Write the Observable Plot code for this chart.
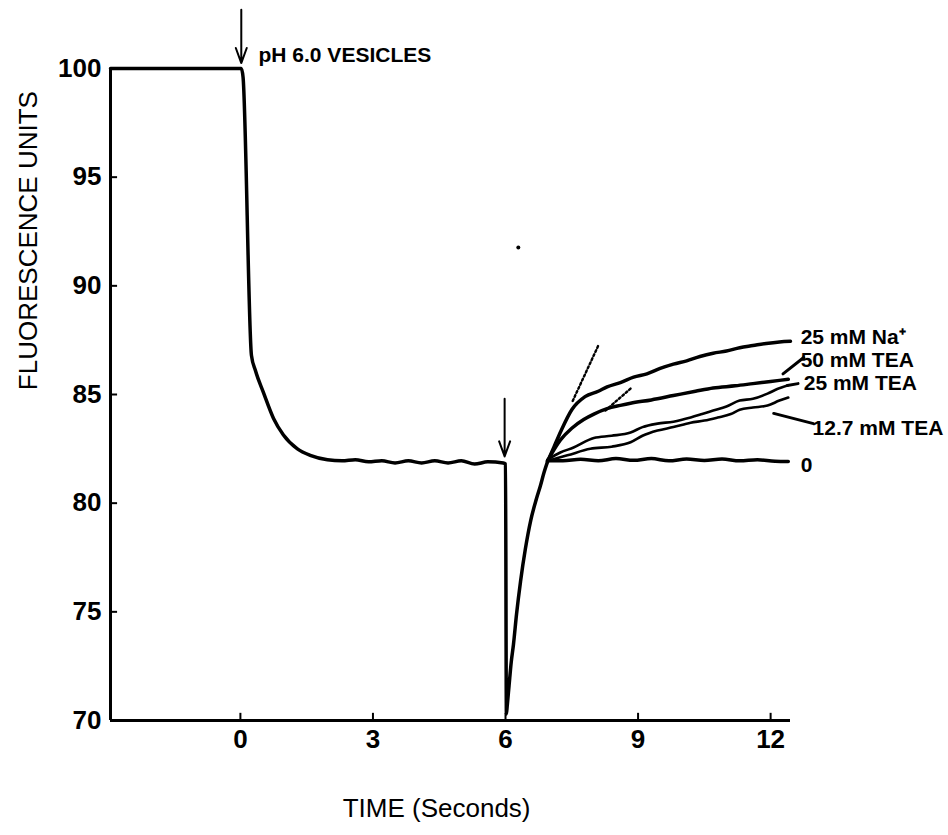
<!DOCTYPE html>
<html>
<head>
<meta charset="utf-8">
<script src="https://cdn.jsdelivr.net/npm/d3@7"></script>
<script src="https://cdn.jsdelivr.net/npm/@observablehq/plot@0.6"></script>
<style>
  html, body { margin: 0; padding: 0; background: #fff; }
  #chart { width: 948px; height: 835px; }
</style>
</head>
<body>
<div id="chart"></div>
<script>
// ---- data (time in seconds, fluorescence units) ----
const mainT = [-2.94, 0.02, 0.06, 0.25, 0.34, 0.52, 0.75, 0.97, 1.29, 1.58, 1.97, 2.3, 2.6, 2.9, 3.2, 3.5, 3.8, 4.1, 4.4, 4.7, 5.0, 5.3, 5.6, 5.95, 6.0, 6.02, 6.04, 6.08, 6.13, 6.18, 6.25, 6.34, 6.45, 6.57, 6.7, 6.79, 6.87, 6.95];
const mainV = [100, 100, 99.6, 86.8, 86.1, 85.1, 83.9, 83.15, 82.5, 82.2, 82.0, 81.95, 82.0, 81.9, 81.95, 81.85, 81.95, 81.85, 81.95, 81.85, 81.95, 81.8, 81.9, 81.85, 81.8, 70.3, 70.7, 71.6, 72.7, 73.5, 74.9, 76.4, 77.9, 79.2, 80.2, 80.8, 81.4, 81.9];

const naT = [6.95, 7.1, 7.25, 7.5, 7.8, 8.1, 8.3, 8.6, 8.9, 9.2, 9.5, 9.8, 10.1, 10.4, 10.7, 11.0, 11.3, 11.6, 11.9, 12.2, 12.45];
const naV = [81.9, 82.6, 83.3, 84.3, 84.9, 85.15, 85.35, 85.55, 85.8, 85.95, 86.2, 86.4, 86.55, 86.75, 86.9, 87.0, 87.15, 87.25, 87.35, 87.42, 87.45];

const tea50T = [6.95, 7.24, 7.5, 7.77, 8.0, 8.3, 8.6, 8.83, 9.3, 9.8, 10.3, 10.7, 11.2, 11.6, 12.0, 12.4];
const tea50V = [81.95, 82.9, 83.45, 83.85, 84.1, 84.35, 84.5, 84.6, 84.75, 84.95, 85.15, 85.3, 85.4, 85.5, 85.6, 85.7];

const tea25T = [6.95, 7.24, 7.54, 8.0, 8.4, 8.83, 9.1, 9.44, 9.8, 10.19, 10.45, 10.7, 11.0, 11.3, 11.6, 11.93, 12.15, 12.38];
const tea25V = [82.0, 82.33, 82.56, 83.0, 83.1, 83.25, 83.5, 83.66, 83.75, 83.94, 84.1, 84.26, 84.45, 84.72, 84.8, 85.04, 85.25, 85.41];

const tea12T = [6.95, 7.4, 7.92, 8.4, 8.83, 9.1, 9.44, 9.8, 10.19, 10.5, 10.8, 11.1, 11.3, 11.6, 11.93, 12.2, 12.4];
const tea12V = [81.95, 82.2, 82.5, 82.6, 82.8, 83.1, 83.34, 83.5, 83.7, 83.8, 83.94, 84.1, 84.3, 84.4, 84.49, 84.72, 84.86];

const zeroT = [6.95, 7.3, 7.7, 8.1, 8.5, 8.9, 9.3, 9.7, 10.1, 10.5, 10.9, 11.3, 11.7, 12.1, 12.4];
const zeroV = [81.95, 81.95, 82.02, 81.95, 82.05, 81.97, 82.05, 81.95, 82.03, 81.96, 82.03, 81.95, 82.0, 81.93, 81.92];

// dotted initial-rate tangents
const tangentNaT = [7.52, 8.1];
const tangentNaV = [84.7, 87.25];
const tangentTeaT = [8.26, 8.83];
const tangentTeaV = [84.26, 85.27];

// axis ticks
const xTicks = [0, 3, 6, 9, 12];
const yTicks = [70, 75, 80, 85, 90, 95, 100];
const xDomain = [-2.94, 12.45];
const yDomain = [70, 100];

// annotations (data units)
const seriesLabels = ["25 mM Na\u207A", "50 mM TEA", "25 mM TEA", "12.7 mM TEA", "0"];
const labelT = [12.68, 12.68, 12.75, 12.95, 12.68];
const labelV = [87.62, 86.56, 85.5, 83.43, 81.73];
const eventArrows = [
  {x1: 0.02, y1: 102.7, x2: 0.02, y2: 100.25},
  {x1: 5.98, y1: 84.8, x2: 5.98, y2: 82.15}
];
const labelArrows = [
  {x1: 12.75, y1: 86.7, x2: 12.28, y2: 85.95, bend: 20},
  {x1: 12.38, y1: 85.41, x2: 12.62, y2: 85.5, bend: 0},
  {x1: 12.97, y1: 83.66, x2: 12.07, y2: 84.13, bend: 0}
];
const specks = [{t: 6.29, v: 91.76}];

// ---- build tables ----
const toRows = (name, T, V) => T.map((t, i) => ({series: name, t, v: V[i]}));
const thick = [
  ...toRows("main", mainT, mainV),
  ...toRows("na", naT, naV),
  ...toRows("tea50", tea50T, tea50V),
  ...toRows("zero", zeroT, zeroV)
];
const thin = [
  ...toRows("tea25", tea25T, tea25V),
  ...toRows("tea12", tea12T, tea12V)
];
const tangents = [
  ...toRows("tNa", tangentNaT, tangentNaV),
  ...toRows("tTea", tangentTeaT, tangentTeaV)
];
const labels = seriesLabels.map((s, i) => ({s, t: labelT[i], v: labelV[i]}));

const font = "'Liberation Sans', Arial, Helvetica, sans-serif";

const chart = Plot.plot({
  width: 948,
  height: 835,
  marginLeft: 110,
  marginRight: 158,
  marginTop: 68,
  marginBottom: 115,
  x: {domain: xDomain, axis: null},
  y: {domain: yDomain, axis: null},
  style: {fontFamily: font, background: "#fff", color: "#000", overflow: "visible"},
  marks: [
    // axes lines
    Plot.ruleX([xDomain[0]], {y1: yDomain[0], y2: yDomain[1], stroke: "#000", strokeWidth: 3}),
    Plot.ruleY([yDomain[0]], {x1: xDomain[0], x2: xDomain[1], stroke: "#000", strokeWidth: 3}),
    // inward ticks
    Plot.ruleX(xTicks, {x: d => d, y1: yDomain[0], y2: yDomain[0] + 0.33, stroke: "#000", strokeWidth: 2}),
    Plot.ruleY(yTicks.filter(d => d > 70 && d < 100), {y: d => d, x1: xDomain[0], x2: xDomain[0] + 0.16, stroke: "#000", strokeWidth: 2}),
    // tick labels
    Plot.text(xTicks, {x: d => d, frameAnchor: "bottom", dy: 27, text: d => String(d), fontSize: 26, fontWeight: "bold", fill: "#000"}),
    Plot.text(yTicks, {y: d => d, frameAnchor: "left", dx: -9, textAnchor: "end", text: d => String(d), fontSize: 26, fontWeight: "bold", fill: "#000"}),
    // axis titles
    Plot.text(["TIME (Seconds)"], {x: 4.44, frameAnchor: "bottom", dy: 96, text: d => d, fontSize: 26, fill: "#000"}),
    Plot.text(["FLUORESCENCE UNITS"], {y: 85.2, frameAnchor: "left", dx: -82, rotate: -90, text: d => d, fontSize: 26, fill: "#000"}),
    // traces
    Plot.line(thick, {x: "t", y: "v", z: "series", curve: "monotone-x", stroke: "#000", strokeWidth: 3.5, strokeLinejoin: "round", strokeLinecap: "round"}),
    Plot.line(thin, {x: "t", y: "v", z: "series", curve: "monotone-x", stroke: "#000", strokeWidth: 2.6, strokeLinejoin: "round", strokeLinecap: "round"}),
    Plot.line(tangents, {x: "t", y: "v", z: "series", stroke: "#000", strokeWidth: 2.4, strokeDasharray: "2,2.5"}),
    Plot.dot(specks, {x: "t", y: "v", r: 2, fill: "#000"}),
    // event arrows
    Plot.arrow(eventArrows, {x1: "x1", y1: "y1", x2: "x2", y2: "y2", stroke: "#000", strokeWidth: 2, headLength: 12, headAngle: 40}),
    Plot.arrow(labelArrows, {x1: "x1", y1: "y1", x2: "x2", y2: "y2", bend: d => d.bend, stroke: "#000", strokeWidth: 3, headLength: 9, headAngle: 60}),
    // annotations
    Plot.text(["pH 6.0 VESICLES"], {x: 0.41, y: 100.6, text: d => d, textAnchor: "start", fontSize: 21, fontWeight: "bold", fill: "#000"}),
    Plot.text(labels, {x: "t", y: "v", text: "s", textAnchor: "start", fontSize: 21, fontWeight: "bold", fill: "#000"})
  ]
});
document.getElementById("chart").appendChild(chart);
</script>
</body>
</html>
